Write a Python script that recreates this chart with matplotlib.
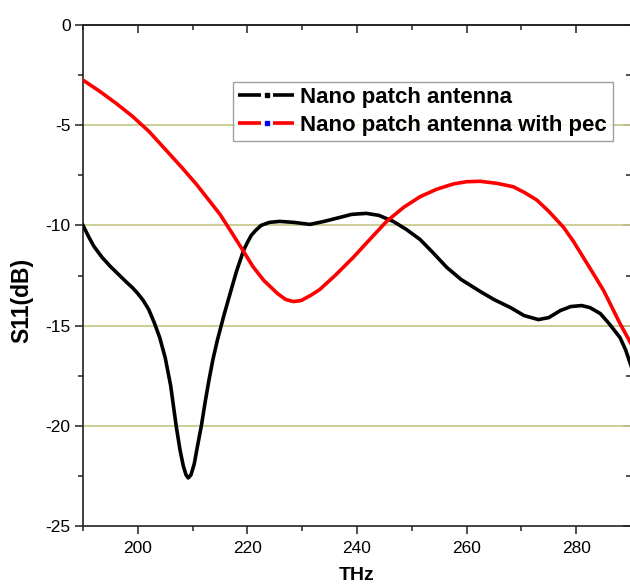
import matplotlib
matplotlib.use('Agg')
import matplotlib.pyplot as plt
from matplotlib.lines import Line2D
from matplotlib.legend_handler import HandlerBase

# S11 curves (THz, dB)
freq_patch = [190, 191, 192, 193.5, 195, 196.5, 198, 199, 200, 201, 202, 203, 204, 205, 206,
              207, 207.7, 208.3, 208.8, 209.2, 209.7, 210.3, 210.9, 211.6, 212.3, 213, 213.7,
              214.5, 215.7, 217, 218, 219.3, 220, 220.7, 221.5, 222.5, 224, 225.9, 228.5,
              231.4, 234, 236.9, 239, 241.7, 244, 246.6, 249, 251.5, 254, 256.4, 259, 262.5,
              265, 268, 270.5, 273.1, 275, 277.1, 279, 281, 282.5, 284.4, 286, 288, 289, 290]
s11_patch = [-10.0, -10.55, -11.05, -11.6, -12.05, -12.45, -12.85, -13.1, -13.4, -13.75,
             -14.2, -14.85, -15.6, -16.6, -18.0, -20.0, -21.2, -22.0, -22.45, -22.6, -22.45,
             -21.9, -21.0, -20.0, -18.8, -17.7, -16.7, -15.75, -14.5, -13.25, -12.3, -11.25,
             -10.85, -10.5, -10.25, -10.0, -9.85, -9.8, -9.85, -9.95, -9.8, -9.6, -9.45, -9.4,
             -9.5, -9.8, -10.2, -10.7, -11.4, -12.1, -12.7, -13.3, -13.7, -14.1, -14.5, -14.7,
             -14.6, -14.25, -14.05, -14.0, -14.1, -14.4, -14.9, -15.6, -16.2, -17.0]

freq_pec = [190, 193, 196, 199, 202, 205, 208, 210.7, 213, 215, 217, 219.3, 221, 223, 225.5,
            227, 228.4, 229.8, 231.5, 233.2, 236, 239.3, 242, 245.4, 248.5, 251.5, 254.5,
            257.6, 260, 262.5, 265.5, 268.5, 270.5, 272.8, 275, 277.7, 279.5, 281.3, 283,
            284, 285, 286, 287, 288, 289, 290]
s11_pec = [-2.75, -3.3, -3.9, -4.55, -5.3, -6.2, -7.1, -7.95, -8.75, -9.45, -10.3, -11.3,
           -12.05, -12.75, -13.4, -13.7, -13.8, -13.75, -13.5, -13.2, -12.5, -11.6, -10.8,
           -9.8, -9.1, -8.57, -8.2, -7.93, -7.82, -7.8, -7.9, -8.07, -8.35, -8.73, -9.3,
           -10.1, -10.8, -11.6, -12.35, -12.8, -13.25, -13.8, -14.35, -14.9, -15.4, -15.9]

labels = ['Nano patch antenna', 'Nano patch antenna with pec']
grid_levels = [-5, -10, -15, -20]
major_x = [200, 220, 240, 260, 280]
minor_x = [190, 210, 230, 250, 270, 290]
major_y = [0, -5, -10, -15, -20, -25]
minor_y = [-2.5, -7.5, -12.5, -17.5, -22.5]

plt.rcParams['font.family'] = ['Liberation Sans', 'DejaVu Sans']
plt.rcParams['axes.unicode_minus'] = False


class DashDotDash(HandlerBase):
    # Origin style legend sample: dash, dot, dash
    def __init__(self, dot_color):
        super().__init__()
        self.dot_color = dot_color

    def create_artists(self, legend, orig_handle, xdescent, ydescent, width, height, fontsize, trans):
        y = height / 2 - ydescent
        x0 = -xdescent
        c = orig_handle.get_color()
        lw = orig_handle.get_linewidth()
        a = Line2D([x0, x0 + width * 0.42], [y, y], color=c, lw=lw, solid_capstyle='butt')
        b = Line2D([x0 + width * 0.52], [y], marker='s', ms=2.2, color=self.dot_color, ls='none')
        d = Line2D([x0 + width * 0.62, x0 + width], [y, y], color=c, lw=lw, solid_capstyle='butt')
        for art in (a, b, d):
            art.set_transform(trans)
        return [a, b, d]


fig = plt.figure(figsize=(6.3, 5.86), dpi=100)
ax = fig.add_axes([83 / 630, 60 / 586, 548 / 630, 501 / 586])

for lv in grid_levels:
    ax.axhline(lv, color='#c9c98f', lw=1.3, zorder=1)

l1, = ax.plot(freq_patch, s11_patch, color='black', lw=2.6, label=labels[0], zorder=3)
l2, = ax.plot(freq_pec, s11_pec, color='#ff0000', lw=2.6, label=labels[1], zorder=3)

ax.set_xlim(190, 290)
ax.set_ylim(-25, 0)
ax.set_xticks(major_x)
ax.set_xticks(minor_x, minor=True)
ax.set_yticks(major_y)
ax.set_yticks(minor_y, minor=True)

ax.tick_params(axis='both', which='major', labelsize=12.5, length=6, width=1.1, color='#222222',
               direction='out')
ax.tick_params(axis='both', which='minor', length=3.5, width=1.1, color='#222222', direction='out')
ax.tick_params(axis='x', which='major', pad=5)
ax.tick_params(axis='y', which='major', pad=3)

# top / right: inward ticks, no labels
top = ax.secondary_xaxis('top')
top.set_xticks(major_x)
top.set_xticks(minor_x, minor=True)
top.tick_params(which='major', direction='in', length=6, width=1.1, color='#222222', labeltop=False)
top.tick_params(which='minor', direction='in', length=3.5, width=1.1, color='#222222')
right = ax.secondary_yaxis('right')
right.set_yticks(major_y)
right.set_yticks(minor_y, minor=True)
right.tick_params(which='major', direction='in', length=6, width=1.1, color='#222222', labelright=False)
right.tick_params(which='minor', direction='in', length=3.5, width=1.1, color='#222222')

for a_ in (ax, top, right):
    for sp in a_.spines.values():
        sp.set_linewidth(1.2)
        sp.set_color('#222222')

ax.set_xlabel('THz', fontsize=14, fontweight='bold')
ax.set_ylabel('S11(dB)', fontsize=16.5, fontweight='bold')
ax.xaxis.set_label_coords((357 - 83) / 548, -41 / 501)
ax.yaxis.set_label_coords(-(83 - 33) / 548, 0.45)

leg = ax.legend([l1, l2], labels, loc='upper left', bbox_to_anchor=(0.273, 0.887),
                handler_map={l1: DashDotDash('black'), l2: DashDotDash('#0000ff')},
                prop={'weight': 'bold', 'size': 16}, frameon=True, fancybox=False,
                handlelength=2.5, handletextpad=0.3, borderpad=0.25, labelspacing=0.3,
                borderaxespad=0)
leg.get_frame().set_edgecolor('#888888')
leg.get_frame().set_linewidth(1.0)
leg.set_zorder(5)

fig.savefig('out.png', dpi=100)
